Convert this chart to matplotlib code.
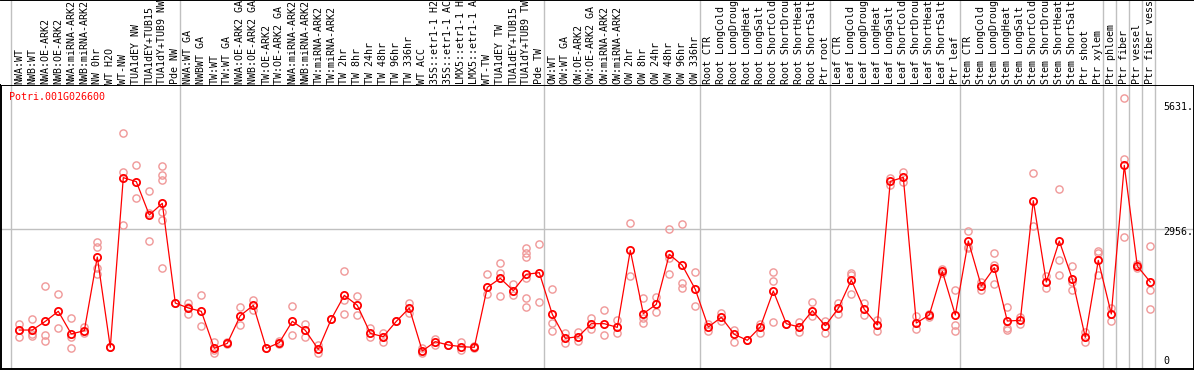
import numpy as np
import matplotlib
matplotlib.use("Agg")
from matplotlib import pyplot as plt

# sample names (truncated as in the source picture)
labels = [
    "NWA:WT", "NWB:WT", "NWA:OE-ARK2", "NWB:OE-ARK2", "NWA:miRNA-ARK2", "NWB:miRNA-ARK2",
    "NW 0hr", "WT H2O", "WT-NW", "TUA1dEY NW", "TUA1dEY+TUB15", "TUA1dY+TUB9 NW", "Pde NW",
    "NWA:WT GA", "NWBWT GA", "TW:WT", "TW:WT GA", "NWA:OE-ARK2 GA", "NWB:OE-ARK2 GA",
    "TW:OE-ARK2", "TW:OE-ARK2 GA", "NWA:miRNA-ARK2", "NWB:miRNA-ARK2", "TW:miRNA-ARK2",
    "TW:miRNA-ARK2", "TW 2hr", "TW 8hr", "TW 24hr", "TW 48hr", "TW 96hr", "TW 336hr",
    "WT ACC", "35S::etr1-1 H2", "35S::etr1-1 AC", "LMX5::etr1-1 H", "LMX5::etr1-1 A",
    "WT-TW", "TUA1dEY TW", "TUA1dEY+TUB15", "TUA1dY+TUB9 TW", "Pde TW",
    "OW:WT", "OW:WT GA", "OW:OE-ARK2", "OW:OE-ARK2 GA", "OW:miRNA-ARK2", "OW:miRNA-ARK2",
    "OW 2hr", "OW 8hr", "OW 24hr", "OW 48hr", "OW 96hr", "OW 336hr",
    "Root CTR", "Root LongCold", "Root LongDroug", "Root LongHeat", "Root LongSalt",
    "Root ShortCold", "Root ShortDrou", "Root ShortHeat", "Root ShortSalt", "Ptr root",
    "Leaf CTR", "Leaf LongCold", "Leaf LongDroug", "Leaf LongHeat", "Leaf LongSalt",
    "Leaf ShortCold", "Leaf ShortDrou", "Leaf ShortHeat", "Leaf ShortSalt", "Ptr leaf",
    "Stem CTR", "Stem LongCold", "Stem LongDroug", "Stem LongHeat", "Stem LongSalt",
    "Stem ShortCold", "Stem ShortDrou", "Stem ShortHeat", "Stem ShortSalt", "Ptr shoot",
    "Ptr xylem", "Ptr phloem", "Ptr fiber", "Ptr vessel", "Ptr fiber vess",
]
group_sizes = [13, 28, 12, 10, 10, 11, 1, 1, 1, 1]

mean_vals = [
    877, 877, 1055, 1261, 796, 864, 2375, 522, 4003, 3921, 3237, 3476, 1431,
    1329, 1261, 502, 604, 1172, 1384, 502, 618, 1055, 871, 481, 1103, 1589, 1384,
    809, 741, 1055, 1329, 447, 638, 570, 536, 522, 1753, 1938, 1685, 2020, 2054,
    1199, 707, 741, 1007, 1007, 932, 2512, 1213, 1404, 2430, 2204, 1712,
    939, 1138, 789, 666, 939, 1678, 1007, 939, 1274, 966,
    1322, 1903, 1302, 980, 3927, 4009, 1021, 1185, 2081, 1185,
    2703, 1780, 2156, 1062, 1076, 3531, 1862, 2703, 1924, 727, 2307,
    1206, 4256, 2190, 1862,
]
rep_vals = [
    [1001, 877, 727], [1103, 790, 760], [1773, 775, 645], [1609, 918], [1117, 727, 502],
    [939, 809], [2690, 2587, 2143, 2020], [522], [4912, 4112, 3025], [4256, 3579],
    [3722, 3271, 2697], [4235, 4057, 3962, 3305, 3127, 2143], [1431],
    [1431, 1213, 1340], [1589, 953], [638, 413, 460], [638, 590], [1343, 980],
    [1493, 1288], [502], [660, 600], [1370, 775], [1001, 741], [570, 413], [1103],
    [2081, 1493, 1199], [1575, 1185], [912, 741], [809, 625], [1055], [1425, 1233],
    [502, 400], [570, 700], [570], [638, 467], [550, 500], [2020, 1623],
    [2252, 2040, 1568], [1814, 1596], [2553, 2464, 2375, 1938, 1527, 1343], [2635, 1459],
    [1712, 1014, 864], [809, 618], [843, 659], [1117, 905], [1281, 768], [1076, 809],
    [3066, 1979], [1527, 1117, 1014], [1555, 1254], [2943, 2348, 2020],
    [3045, 1835, 1732], [2061, 1370],
    [857, 1000], [1220, 1060], [870, 638], [666], [994, 823], [2068, 1876, 1049],
    [1007], [1035, 837], [1445, 1172], [1069, 823],
    [1431, 1199], [2054, 2006, 1623], [1431, 1185], [1083, 864], [4003, 3852],
    [4112, 3907], [1165, 905], [1199, 1138], [2129, 2040], [1698, 980, 864],
    [2909, 2587, 2553], [1869, 1691], [2450, 2211, 1814], [1343, 912, 878],
    [1138, 1000], [4105, 3011], [1979, 1732], [3763, 2307, 1999], [2184, 1869, 1691],
    [843, 625], [2505, 2450, 1999],
    [1322, 1055], [5631, 4386, 2779], [2231, 2150], [2594, 1691, 1308],
]
gene = "Potri.001G026600"
y_max = 5631
y_mid = 2956

W, H = 1194, 370
fig = plt.figure(figsize=(W / 100, H / 100), dpi=100)
mono = "DejaVu Sans Mono"
fs = 7.2
grey = "#c0c0c0"

x = np.arange(len(labels))
xlim = ((1 - 19.3) / 13.0, (W - 19.3) / 13.0)
bounds = np.concatenate([[-0.66], np.cumsum(group_sizes) - 1 + 0.385])

# plot area
ax = fig.add_axes([1 / W, 1 / H, (W - 1) / W, 284 / H])
ax.set_xlim(*xlim)
ax.set_ylim(77.6, 5903.6)
ax.set_xticks([])
ax.set_yticks([])
for s in ax.spines.values():
    s.set_linewidth(1.4)
for b in bounds:
    ax.axvline(b, color=grey, lw=1.0, zorder=1)
ax.axhline(y_mid, color=grey, lw=1.0, zorder=1)

for i, reps in enumerate(rep_vals):
    ax.plot([i] * len(reps), reps, "o", ms=5.2, mfc="none", mec="#f09898", mew=1.0, zorder=2)
ax.plot(x, mean_vals, "-", color="red", lw=0.9, zorder=3)
ax.plot(x, mean_vals, "o", ms=5.2, mfc="none", mec="red", mew=1.3, zorder=4)

# header with rotated sample names
axh = fig.add_axes([1 / W, (H - 85) / H, (W - 1) / W, 85 / H])
axh.set_xlim(*xlim)
axh.set_ylim(0, 85)
axh.set_xticks([])
axh.set_yticks([])
for k in ["left", "right", "bottom"]:
    axh.spines[k].set_visible(False)
axh.spines["top"].set_linewidth(1.4)
for b in bounds:
    axh.axvline(b, color=grey, lw=1.0)
for i, lab in enumerate(labels):
    axh.text(i, 1.5, lab, rotation=90, ha="center", va="bottom", family=mono, fontsize=fs,
             clip_on=True)

fig.text(9.3 / W, 1 - 97.3 / H, gene, color="red", family=mono, fontsize=fs, ha="left", va="center")
for txt, ypx in [(f"{y_max}.", 107), (f"{y_mid}.", 232), ("0", 361.5)]:
    fig.text(1163.5 / W, 1 - ypx / H, txt, family=mono, fontsize=fs, ha="left", va="center")

fig.savefig("out.png", dpi=100)
